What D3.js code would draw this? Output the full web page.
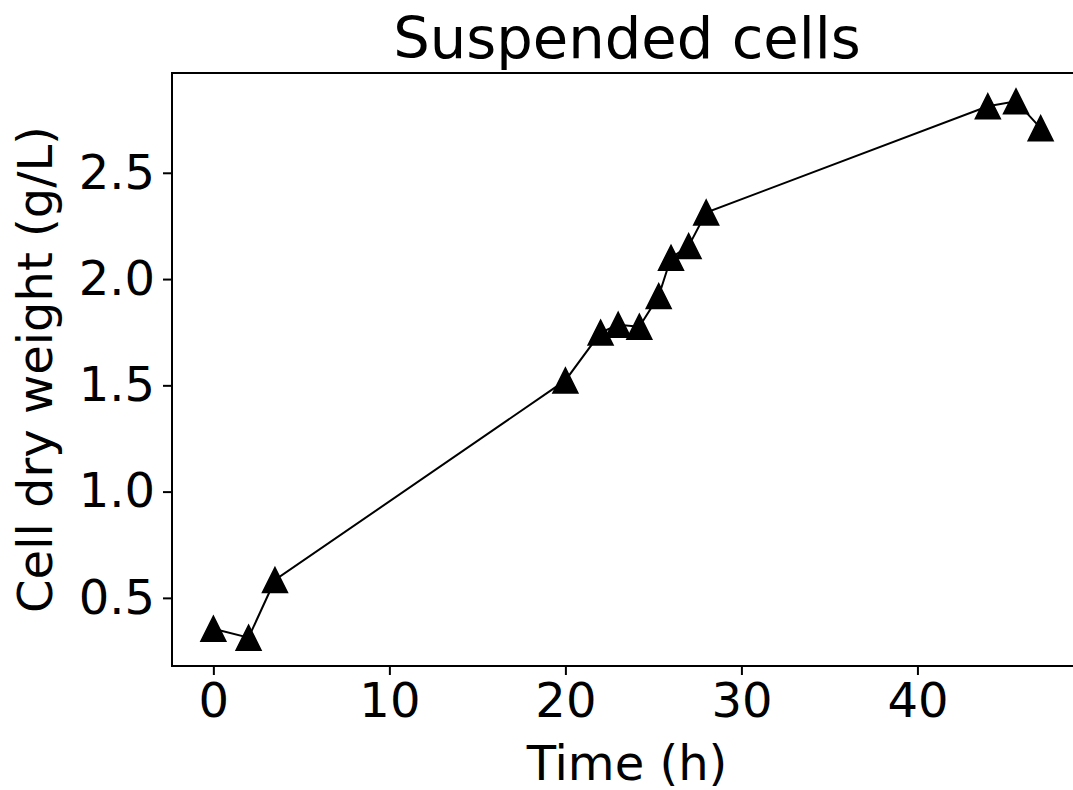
<!DOCTYPE html>
<html><head><meta charset="utf-8">
<script src="https://cdn.jsdelivr.net/npm/d3@7"></script>
<style>body{margin:0;background:#fff;} text{font-family:"DejaVu Sans",sans-serif;fill:#000;}</style>
</head><body>
<svg id="c" width="1073" height="790"></svg>
<script>
const timeH = [0, 2, 3.5, 20, 22, 23, 24.2, 25.3, 26, 27, 28, 44, 45.6, 47];
const dryWeight = [0.355, 0.313, 0.584, 1.523, 1.748, 1.785, 1.776, 1.92, 2.1, 2.155, 2.313, 2.813, 2.836, 2.71];
const xTicks = [0, 10, 20, 30, 40];
const yTicks = [0.5, 1.0, 1.5, 2.0, 2.5];
const title = "Suspended cells";
const xLabel = "Time (h)";
const yLabel = "Cell dry weight (g/L)";

const svg = d3.select("#c");
const L = 172, R = 1082, T = 73, B = 666;
const x = d3.scaleLinear().domain([-2.35, 49.35]).range([L, R]);
const y = d3.scaleLinear().domain([0.1795, 2.9695]).range([B, T]);

const g = svg.append("g");
const fs = 48;

const xa = g.append("g").attr("transform", `translate(0,${B})`)
  .call(d3.axisBottom(x).tickValues(xTicks).tickFormat(d3.format("d")).tickSize(9).tickPadding(8));
const ya = g.append("g").attr("transform", `translate(${L},0)`)
  .call(d3.axisLeft(y).tickValues(yTicks).tickFormat(d3.format(".1f")).tickSize(9).tickPadding(8));
[xa, ya].forEach(a => {
  a.select(".domain").remove();
  a.selectAll("line").attr("stroke", "#000").attr("stroke-width", 2);
  a.selectAll("text").style("font-size", fs + "px").style("font-family", "DejaVu Sans");
});

g.append("rect").attr("x", L).attr("y", T).attr("width", R - L).attr("height", B - T)
  .attr("fill", "none").attr("stroke", "#000").attr("stroke-width", 2);

const pts = timeH.map((t, i) => [t, dryWeight[i]]);
g.append("path").datum(pts)
  .attr("d", d3.line().x(d => x(d[0])).y(d => y(d[1])))
  .attr("fill", "none").attr("stroke", "#000").attr("stroke-width", 2);

const s = 12.5;
g.selectAll(".m").data(pts).join("path").attr("class", "m")
  .attr("d", d => `M${x(d[0])},${y(d[1]) - s}L${x(d[0]) + s},${y(d[1]) + s}L${x(d[0]) - s},${y(d[1]) + s}Z`)
  .attr("fill", "#000").attr("stroke", "#000").attr("stroke-width", 1.5);

svg.append("text").attr("x", (L + R) / 2).attr("y", 58).attr("text-anchor", "middle")
  .style("font-size", "57.6px").text(title);
svg.append("text").attr("x", (L + R) / 2).attr("y", 780).attr("text-anchor", "middle")
  .style("font-size", fs + "px").text(xLabel);
svg.append("text").attr("transform", `translate(52,${(T + B) / 2}) rotate(-90)`).attr("text-anchor", "middle")
  .style("font-size", fs + "px").text(yLabel);
</script>
</body></html>
